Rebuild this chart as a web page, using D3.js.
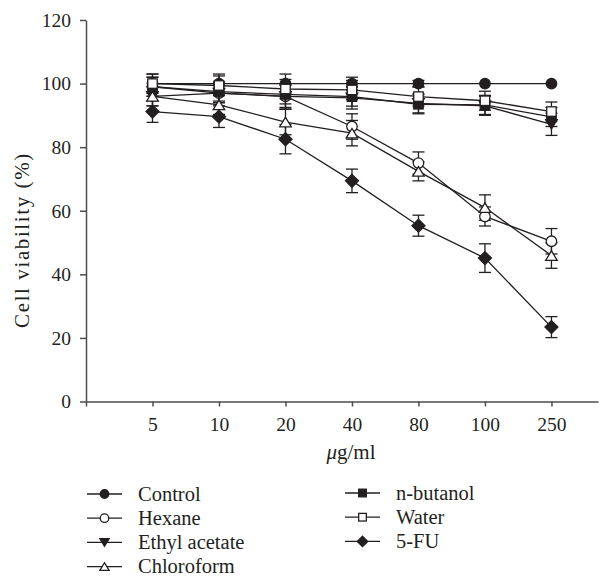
<!DOCTYPE html>
<html>
<head>
<meta charset="utf-8">
<script src="https://cdn.jsdelivr.net/npm/d3@7"></script>
<style>
  html, body { margin: 0; padding: 0; background: #fff; }
  svg { display: block; }
  svg text { font-family: 'Liberation Serif', 'DejaVu Serif', serif !important; fill: #231f20; }
</style>
</head>
<body>
<svg id="chart" width="613" height="577"></svg>
<script>
// ---- data ----
const categories = ["5", "10", "20", "40", "80", "100", "250"];
const yTicks = [0, 20, 40, 60, 80, 100, 120];

const control      = [100, 100, 100, 100, 100, 100, 100];
const controlErr   = [3, 3, 3, 2, 1, 0, 0];
const hexane       = [99, 97, 96, 86.5, 75, 58.2, 50.4];
const hexaneErr    = [3, 3, 4, 4, 3.5, 3, 4];
const ethyl        = [96, 97, 96, 95.5, 93.8, 93, 87.2];
const ethylErr     = [3, 3, 3.5, 3.5, 3, 3, 3.5];
const chloroform   = [96, 93.3, 87.9, 84.4, 72.4, 61, 45.9];
const chloroformErr= [3, 3, 4, 4, 3, 4, 4];
const butanol      = [99, 97.5, 96.6, 95.9, 93.5, 93.3, 89.5];
const butanolErr   = [3, 3, 3, 3, 3, 3, 3];
const water        = [100, 99.4, 98.3, 98, 95.9, 94.6, 91.2];
const waterErr     = [3, 3, 3, 3, 3, 3, 3];
const fu           = [91.2, 89.6, 82.5, 69.4, 55.3, 45.1, 23.4];
const fuErr        = [3.4, 3.4, 4.6, 3.7, 3.3, 4.5, 3.3];

const seriesNames = ["Control", "Hexane", "Ethyl acetate", "Chloroform", "n-butanol", "Water", "5-FU"];
const seriesValues = [control, hexane, ethyl, chloroform, butanol, water, fu];
const seriesErrors = [controlErr, hexaneErr, ethylErr, chloroformErr, butanolErr, waterErr, fuErr];
const seriesMarkers = ["circleFilled", "circleOpen", "triDownFilled", "triUpOpen", "squareFilled", "squareOpen", "diamondFilled"];

// ---- layout ----
const ink = "#231f20";
const axisColor = "#4d4d4f";
const serif = "'Liberation Serif', 'DejaVu Serif', serif";
const svg = d3.select("#chart");

const x = d3.scaleLinear().domain([0, 7.7]).range([86, 598]);
const y = d3.scaleLinear().domain([0, 120]).range([401.5, 20]);

// axes
const xAxis = d3.axisBottom(x)
  .tickValues(d3.range(0, 8))
  .tickFormat(i => i === 0 ? "" : categories[i - 1])
  .tickSizeInner(5).tickSizeOuter(0).tickPadding(11);
const gx = svg.append("g").attr("transform", `translate(0,${y(0)})`).call(xAxis)
  .attr("font-family", serif);
gx.select(".domain").attr("stroke", axisColor).attr("stroke-width", 1.5);
gx.selectAll(".tick line").attr("stroke", axisColor).attr("stroke-width", 1.5);
gx.selectAll(".tick text").attr("font-size", 19.5).attr("fill", ink)
  .style("font-family", serif);

const yAxis = d3.axisLeft(y).tickValues(yTicks).tickSizeInner(6).tickSizeOuter(0).tickPadding(9);
const gy = svg.append("g").attr("transform", `translate(${x(0)},0)`).call(yAxis)
  .attr("font-family", serif);
gy.select(".domain").attr("stroke", axisColor).attr("stroke-width", 1.5);
gy.selectAll(".tick line").attr("stroke", axisColor).attr("stroke-width", 1.5);
gy.selectAll(".tick text").attr("font-size", 19.5).attr("fill", ink)
  .style("font-family", serif);

// axis titles
svg.append("text")
  .attr("transform", `translate(29,240) rotate(-90)`)
  .attr("text-anchor", "middle")
  .attr("font-size", 21)
  .attr("letter-spacing", 1.6)
  .style("font-family", serif)
  .text("Cell viability (%)");

const xt = svg.append("text")
  .attr("x", 351).attr("y", 459)
  .attr("text-anchor", "middle")
  .attr("font-size", 21)
  .style("font-family", serif);
xt.append("tspan").attr("font-style", "italic").text("\u03bc");
xt.append("tspan").text("g/ml");

// marker drawing
function drawMarker(g, type, cx, cy, s) {
  const fillFor = type.endsWith("Filled") ? ink : "#fff";
  let el;
  if (type.startsWith("circle")) {
    el = g.append("circle").attr("cx", cx).attr("cy", cy).attr("r", s * 0.5);
  } else if (type.startsWith("square")) {
    el = g.append("rect").attr("x", cx - s * 0.45).attr("y", cy - s * 0.45)
      .attr("width", s * 0.9).attr("height", s * 0.9);
  } else if (type.startsWith("triDown")) {
    const h = s * 0.9;
    el = g.append("path").attr("d",
      `M${cx - s * 0.55},${cy - h / 2}L${cx + s * 0.55},${cy - h / 2}L${cx},${cy + h / 2}Z`);
  } else if (type.startsWith("triUp")) {
    const h = s * 0.9;
    el = g.append("path").attr("d",
      `M${cx - s * 0.55},${cy + h / 2}L${cx + s * 0.55},${cy + h / 2}L${cx},${cy - h / 2}Z`);
  } else if (type.startsWith("diamond")) {
    const r = s * 0.62;
    el = g.append("path").attr("d",
      `M${cx},${cy - r}L${cx + r},${cy}L${cx},${cy + r}L${cx - r},${cy}Z`);
  }
  el.attr("fill", fillFor).attr("stroke", ink).attr("stroke-width", 1.3);
}

const line = d3.line().x((d, i) => x(i + 1)).y(d => y(d));
const plot = svg.append("g");

// lines + error bars
seriesValues.forEach((vals, k) => {
  const g = plot.append("g");
  g.append("path").datum(vals).attr("d", line)
    .attr("fill", "none").attr("stroke", ink).attr("stroke-width", 1.3);
  vals.forEach((v, i) => {
    const e = seriesErrors[k][i];
    if (e <= 0) return;
    const cx = x(i + 1);
    g.append("line").attr("x1", cx).attr("x2", cx).attr("y1", y(v - e)).attr("y2", y(v + e))
      .attr("stroke", ink).attr("stroke-width", 1.3);
    [v - e, v + e].forEach(b => {
      g.append("line").attr("x1", cx - 6).attr("x2", cx + 6).attr("y1", y(b)).attr("y2", y(b))
        .attr("stroke", ink).attr("stroke-width", 1.3);
    });
  });
});
// markers on top
seriesValues.forEach((vals, k) => {
  const g = plot.append("g");
  vals.forEach((v, i) => drawMarker(g, seriesMarkers[k], x(i + 1), y(v), 10.5));
});

// legend
const legendCols = [
  { x0: 87, rows: [0, 1, 2, 3], y0: 494 },
  { x0: 345, rows: [4, 5, 6], y0: 493 }
];
legendCols.forEach(col => {
  col.rows.forEach((k, r) => {
    const cy = col.y0 + r * 24.2;
    const g = svg.append("g");
    g.append("line").attr("x1", col.x0).attr("x2", col.x0 + 35).attr("y1", cy).attr("y2", cy)
      .attr("stroke", ink).attr("stroke-width", 1.3);
    drawMarker(g, seriesMarkers[k], col.x0 + 17.5, cy, 8.5);
    g.append("text").attr("x", col.x0 + 51).attr("y", cy + 6.5)
      .attr("font-size", 20.5).style("font-family", serif).text(seriesNames[k]);
  });
});
</script>
</body>
</html>
